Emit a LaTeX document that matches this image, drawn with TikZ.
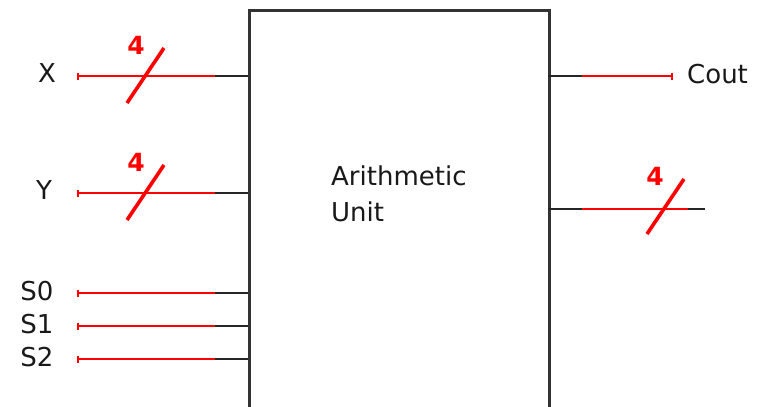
\documentclass[tikz,border=0pt]{standalone}
\usepackage{fontspec}
\setmainfont{DejaVu Sans}
\usetikzlibrary{calc}
\begin{document}
\begin{tikzpicture}[x=1pt,y=-1pt,
  lbl/.style={inner sep=0pt,text=black!90,font=\fontsize{26}{36}\selectfont},
  bits/.style={inner sep=0pt,text=red,font=\bfseries\fontsize{25}{25}\selectfont},
  wire/.style={red,line width=2.2pt},
  stub/.style={black!85,line width=2.2pt},
  slash/.style={red,line width=3.6pt},
  tick/.style={red,line width=2.2pt}]
\useasboundingbox (0,0) rectangle (761,407);
\fill[white] (0,0) rectangle (761,407);
% main box
\node[draw=black!80,line width=2.6pt,minimum width=300pt,minimum height=420pt,anchor=north west,inner sep=0pt] (au) at (248,9) {};
\node[lbl,align=left,anchor=north west] (txt) at (331,166) {Arithmetic\\Unit};
% input labels
\node[lbl] (lx) at (47,73) {X};
\node[lbl] (ly) at (44,190) {Y};
\node[lbl] (ls0) at (37,291) {S0};
\node[lbl] (ls1) at (37,324) {S1};
\node[lbl] (ls2) at (37,357) {S2};
\node[lbl,anchor=west] (lc) at (687,74) {Cout};
% coordinates
\foreach \n/\y in {x/76,y/193,s0/293,s1/326,s2/359}{
  \coordinate (\n a) at (78,\y);
  \coordinate (\n b) at (215,\y);
  \coordinate (\n c) at (248,\y);
  \draw[wire] (\n a) -- (\n b);
  \draw[stub] (\n b) -- (\n c);
  \draw[tick] ($(\n a)+(0,-3.5)$) -- ($(\n a)+(0,3.5)$);
}
% bus slashes on inputs
\coordinate (sx1) at (127,103); \coordinate (sx2) at (164,48);
\draw[slash] (sx1) -- (sx2);
\node[bits] (nx) at (136,45) {4};
\coordinate (sy1) at (127,220); \coordinate (sy2) at (164,165);
\draw[slash] (sy1) -- (sy2);
\node[bits] (ny) at (136,162) {4};
% outputs
\coordinate (ca) at (548,76); \coordinate (cb) at (582,76); \coordinate (cc) at (672,76);
\draw[stub] (ca) -- (cb);
\draw[wire] (cb) -- (cc);
\draw[tick] ($(cc)+(0,-3.5)$) -- ($(cc)+(0,3.5)$);
\coordinate (oa) at (548,209); \coordinate (ob) at (582,209); \coordinate (oc) at (688,209); \coordinate (od) at (705,209);
\draw[stub] (oa) -- (ob);
\draw[wire] (ob) -- (oc);
\draw[stub] (oc) -- (od);
\coordinate (so1) at (647,234); \coordinate (so2) at (684,179);
\draw[slash] (so1) -- (so2);
\node[bits] (no) at (655,176) {4};
\end{tikzpicture}
\end{document}
